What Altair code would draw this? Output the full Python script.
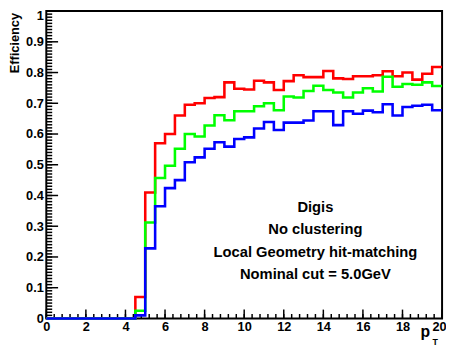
import altair as alt
import numpy as np
import pandas as pd

# bin low edges (0.5 GeV bins from 0 to 20)
bin_edges = list(np.arange(0, 20, 0.5))
x_max = 20.0

red = [0, 0, 0, 0, 0, 0, 0, 0, 0, 0.07,
       0.41, 0.57, 0.60, 0.66, 0.695, 0.70, 0.717, 0.72, 0.768, 0.747,
       0.745, 0.773, 0.768, 0.743, 0.772, 0.791, 0.785, 0.785, 0.805, 0.781,
       0.779, 0.788, 0.788, 0.791, 0.804, 0.788, 0.80, 0.777, 0.796, 0.818]
green = [0, 0, 0, 0, 0, 0, 0, 0, 0, 0.025,
         0.312, 0.457, 0.497, 0.552, 0.60, 0.592, 0.628, 0.661, 0.645, 0.674,
         0.674, 0.69, 0.70, 0.677, 0.722, 0.719, 0.74, 0.757, 0.743, 0.735,
         0.719, 0.735, 0.749, 0.738, 0.786, 0.754, 0.763, 0.76, 0.768, 0.756]
blue = [0, 0, 0, 0, 0, 0, 0, 0, 0, 0.01,
        0.228, 0.365, 0.424, 0.45, 0.508, 0.524, 0.552, 0.573, 0.559, 0.584,
        0.589, 0.618, 0.639, 0.613, 0.637, 0.637, 0.644, 0.674, 0.674, 0.629,
        0.674, 0.666, 0.676, 0.671, 0.697, 0.66, 0.688, 0.692, 0.695, 0.677]

y_major = [round(v, 2) for v in np.arange(0, 1.0001, 0.1)]
y_minor = [round(v, 2) for v in np.arange(0, 1.0001, 0.01)]
x_major = list(range(0, 21, 2))
x_minor = [round(v, 2) for v in np.arange(0, 20.0001, 0.4)]

annotation = ["Digis", "No clustering", "Local Geometry hit-matching", "Nominal cut = 5.0GeV"]

FONT = "Liberation Sans"

xsc = alt.Scale(domain=[0, 20], nice=False, zero=False)
ysc = alt.Scale(domain=[0, 1], nice=False, zero=False)

xaxis = alt.Axis(values=x_major, format="d", title=None, grid=False, domain=False,
                 ticks=False, tickSize=0, labelPadding=2, labelFont=FONT,
                 labelFontWeight="bold", labelFontSize=13, labelColor="black",
                 labelFlush=False, labelOverlap=False, labelBound=False,
                 labelOffset={"condition": {"test": "datum.value >= 20", "value": -3},
                              "value": 0})
yaxis = alt.Axis(values=y_major, format=".1~f", title=None, grid=False, domain=False,
                 ticks=False, tickSize=0, labelPadding=3, labelFont=FONT,
                 labelFontWeight="bold", labelFontSize=13, labelColor="black",
                 labelOverlap=False, labelBound=False,
                 labelBaseline={"condition": {"test": "datum.value >= 1", "value": "top"},
                                "value": "middle"},
                 labelOffset={"condition": {"test": "datum.value >= 1", "value": -1},
                              "value": 0})


def hist_df(vals):
    return pd.DataFrame({"pt": bin_edges + [x_max], "eff": vals + [vals[-1]]})


def step(vals, color):
    return alt.Chart(hist_df(vals)).mark_line(
        interpolate="step-after", color=color, strokeWidth=2.6, clip=False
    ).encode(
        x=alt.X("pt:Q", scale=xsc, axis=xaxis),
        y=alt.Y("eff:Q", scale=ysc, axis=yaxis),
    )


ytick_minor = alt.Chart(pd.DataFrame({"eff": y_minor})).mark_rule(color="black", strokeWidth=1.5).encode(
    y=alt.Y("eff:Q", scale=ysc, axis=yaxis), x=alt.value(0), x2=alt.value(6))
ytick_major = alt.Chart(pd.DataFrame({"eff": y_major})).mark_rule(color="black", strokeWidth=1.5).encode(
    y=alt.Y("eff:Q", scale=ysc, axis=yaxis), x=alt.value(0), x2=alt.value(12))
xtick_minor = alt.Chart(pd.DataFrame({"pt": x_minor})).mark_rule(color="black", strokeWidth=1.5).encode(
    x=alt.X("pt:Q", scale=xsc, axis=xaxis), y=alt.value(313), y2=alt.value(308.5))
xtick_major = alt.Chart(pd.DataFrame({"pt": x_major})).mark_rule(color="black", strokeWidth=1.5).encode(
    x=alt.X("pt:Q", scale=xsc, axis=xaxis), y=alt.value(313), y2=alt.value(304))

one = pd.DataFrame({"k": [0]})
ytitle = alt.Chart(one).mark_text(
    text="Efficiency", angle=270, align="right", baseline="middle",
    font=FONT, fontWeight="bold", fontSize=13, color="black"
).encode(x=alt.value(-32), y=alt.value(2))
xtitle_p = alt.Chart(one).mark_text(
    text="p", align="center", baseline="alphabetic",
    font=FONT, fontWeight="bold", fontSize=16, color="black"
).encode(x=alt.value(386), y=alt.value(332))
xtitle_T = alt.Chart(one).mark_text(
    text="T", align="center", baseline="alphabetic",
    font=FONT, fontWeight="bold", fontSize=9, color="black"
).encode(x=alt.value(396), y=alt.value(340))
note = alt.Chart(one).mark_text(
    text=annotation, align="center", baseline="alphabetic", lineHeight=22.5,
    font=FONT, fontWeight="bold", fontSize=15, color="black"
).encode(x=alt.value(274), y=alt.value(205))

chart = alt.layer(
    ytick_minor, ytick_major, xtick_minor, xtick_major,
    step(red, "#ff0000"), step(green, "#00ff00"), step(blue, "#0000ff"),
    ytitle, xtitle_p, xtitle_T, note,
).properties(
    width=403, height=313,
    autosize=alt.AutoSizeParams(type="none"),
    padding={"left": 39, "top": 0, "right": 4, "bottom": 28},
    background="white",
).configure_view(stroke="black", strokeWidth=2)

chart.save("out.html", embed_options={"renderer": "svg", "actions": False})
